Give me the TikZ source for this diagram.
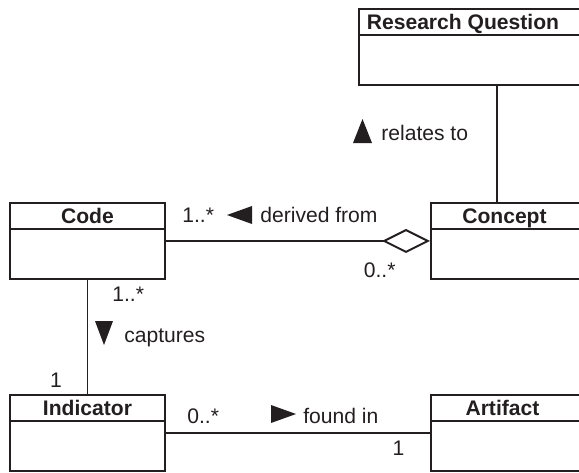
\documentclass[tikz,border=0pt]{standalone}
\usepackage{fontspec}
\setmainfont{Liberation Sans}
\usetikzlibrary{arrows.meta}
\definecolor{inkBlack}{HTML}{231F20}

\begin{document}
\begin{tikzpicture}[
  every node/.style={font=\fontsize{12}{14}\selectfont, text=inkBlack},
  umlbox/.style={draw=inkBlack, line width=1.1pt, minimum height=1.52cm, anchor=north west, inner sep=0pt},
  umltitle/.style={anchor=north, minimum height=0.53cm, inner sep=0pt, text height=8.6pt, text depth=0pt, font=\fontsize{12}{14}\selectfont\bfseries},
  assoc/.style={draw=inkBlack, line width=1.1pt},
  mult/.style={anchor=base west, inner sep=0pt},
  verb/.style={anchor=base west, inner sep=0pt}
]
 \useasboundingbox (0,0) rectangle (11.58,-9.44);
 \clip (0,0) rectangle (11.58,-9.44);
 % Classes
 \node[umlbox, minimum width=4.54cm] (rq) at (7.16,-0.16) {};
 \node[umltitle, xshift=-0.19cm] (rqT) at (rq.north) {Research Question};
 \draw[assoc] (rqT.south -| rq.west) -- (rqT.south -| rq.east);
 \node[umlbox, minimum width=3.10cm] (code) at (0.18,-4.04) {};
 \node[umltitle] (codeT) at (code.north) {Code};
 \draw[assoc] (codeT.south -| code.west) -- (codeT.south -| code.east);
 \node[umlbox, minimum width=3.10cm] (concept) at (8.60,-4.04) {};
 \node[umltitle, xshift=-0.08cm] (conceptT) at (concept.north) {Concept};
 \draw[assoc] (conceptT.south -| concept.west) -- (conceptT.south -| concept.east);
 \node[umlbox, minimum width=3.10cm] (indicator) at (0.18,-7.88) {};
 \node[umltitle] (indicatorT) at (indicator.north) {Indicator};
 \draw[assoc] (indicatorT.south -| indicator.west) -- (indicatorT.south -| indicator.east);
 \node[umlbox, minimum width=3.10cm] (artifact) at (8.60,-7.88) {};
 \node[umltitle, xshift=-0.12cm] (artifactT) at (artifact.north) {Artifact};
 \draw[assoc] (artifactT.south -| artifact.west) -- (artifactT.south -| artifact.east);
 % Associations
 \coordinate (relX) at (9.94,0);
 \draw[assoc] (rq.south -| relX) -- (concept.north -| relX);
 \draw[assoc, -{Diamond[open, length=0.96cm, width=0.48cm]}] (code.east) -- (concept.west);
 \draw[assoc] (code.south) -- (indicator.north);
 \draw[assoc] (indicator.east) -- (artifact.west);
 % Association names
 \node[verb] (relates) at (7.62,-2.80) {relates to};
 \fill[inkBlack] ([shift={(-0.37,0.42)}]relates.base west) -- ([shift={(-0.56,-0.06)}]relates.base west) -- ([shift={(-0.18,-0.06)}]relates.base west) -- cycle;
 \node[verb] (derived) at (5.20,-4.44) {derived from};
 \fill[inkBlack] ([shift={(-0.66,0.14)}]derived.base west) -- ([shift={(-0.16,0.32)}]derived.base west) -- ([shift={(-0.16,-0.04)}]derived.base west) -- cycle;
 \node[verb] (captures) at (2.48,-6.84) {captures};
 \fill[inkBlack] ([shift={(-0.40,-0.06)}]captures.base west) -- ([shift={(-0.58,0.42)}]captures.base west) -- ([shift={(-0.22,0.42)}]captures.base west) -- cycle;
 \node[verb] (found) at (6.06,-8.46) {found in};
 \fill[inkBlack] ([shift={(-0.14,0.18)}]found.base west) -- ([shift={(-0.64,0.36)}]found.base west) -- ([shift={(-0.64,0)}]found.base west) -- cycle;
 % Multiplicities
 \node[mult] (mCode) at (3.64,-4.44) {1..*};
 \node[mult] (mConcept) at (7.27,-5.54) {0..*};
 \node[mult] (mCodeDown) at (2.24,-6.02) {1..*};
 \node[mult, anchor=base] (mIndicatorUp) at (1.12,-7.74) {1};
 \node[mult] (mIndicator) at (3.74,-8.46) {0..*};
 \node[mult, anchor=base] (mArtifact) at (7.97,-9.10) {1};
\end{tikzpicture}
\end{document}
